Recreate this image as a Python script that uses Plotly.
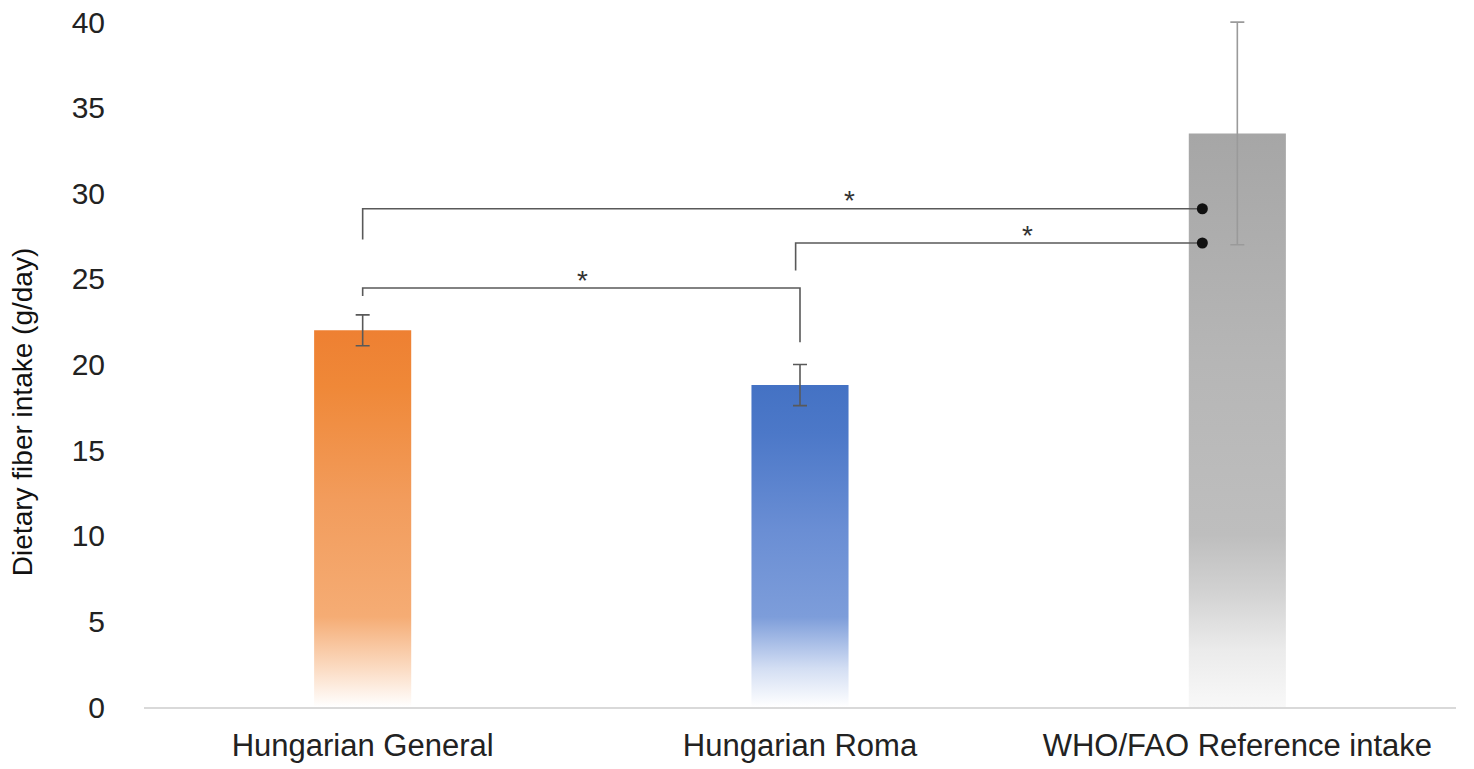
import plotly.graph_objects as go

# Dietary fiber intake by group (g/day)
groups = ["Hungarian General", "Hungarian Roma", "WHO/FAO Reference intake"]
means = [22.0, 18.8, 33.5]
errors = [0.9, 1.2, 6.5]

# Vertical gradient stops for each bar (bottom -> top)
bar_scales = [
    [[0, "#FFFFFF"], [0.1, "#FBDCC4"], [0.24, "#F5AC74"], [0.55, "#F29C5C"], [0.85, "#EF8838"], [1, "#EE8032"]],
    [[0, "#FFFFFF"], [0.12, "#D3DEF3"], [0.28, "#7D9DDA"], [0.55, "#6A8ED4"], [0.85, "#4C78C8"], [1, "#4472C4"]],
    [[0, "#F8F8F8"], [0.1, "#EBEBEB"], [0.2, "#D2D2D2"], [0.3, "#BEBEBE"], [0.6, "#B6B6B6"], [1, "#A6A6A6"]],
]
err_colors = ["#595959", "#595959", "#9A9A9A"]

# Significance brackets: (left x, left foot, right x, right foot, height, star x, dot at right end)
brackets = [
    (0.0, 27.3, 1.92, None, 29.1, 1.114, True),
    (0.99, 25.5, 1.92, None, 27.1, 1.52, True),
    (0.0, 24.0, 1.0, 21.3, 24.47, 0.503, False),
]

half_w = 0.111

fig = go.Figure()

for i, (m, e) in enumerate(zip(means, errors)):
    fig.add_trace(go.Scatter(
        x=[i - half_w, i + half_w, i + half_w, i - half_w, i - half_w],
        y=[0, 0, m, m, 0],
        mode="lines", line=dict(width=0),
        fill="toself",
        fillgradient=dict(type="vertical", colorscale=bar_scales[i], start=0, stop=m),
        hoverinfo="skip", showlegend=False,
    ))
    fig.add_trace(go.Scatter(
        x=[i], y=[m], mode="markers",
        marker=dict(size=1, color="rgba(0,0,0,0)"),
        error_y=dict(type="data", array=[e], color=err_colors[i], thickness=1.6, width=7),
        showlegend=False, hoverinfo="skip",
    ))

for lx, lf, rx, rf, h, sx, dot in brackets:
    xs = [lx, lx, rx]
    ys = [lf, h, h]
    if rf is not None:
        xs.append(rx)
        ys.append(rf)
    fig.add_trace(go.Scatter(
        x=xs, y=ys, mode="lines",
        line=dict(color="#595959", width=1.6),
        showlegend=False, hoverinfo="skip",
    ))
    if dot:
        fig.add_trace(go.Scatter(
            x=[rx], y=[h], mode="markers",
            marker=dict(size=11, color="#111111"),
            showlegend=False, hoverinfo="skip",
        ))
    fig.add_annotation(x=sx, y=h, text="*", showarrow=False,
                       yanchor="middle", yshift=8,
                       font=dict(family="Liberation Sans, Arial", size=28, color="#333333"))

# Axis title placed as a rotated annotation
fig.add_annotation(
    xref="paper", yref="paper", x=-0.093, y=0.42,
    text="Dietary fiber intake (g/day)", textangle=-90, showarrow=False,
    xanchor="center", yanchor="middle",
    font=dict(family="Liberation Sans, Arial", size=28, color="#111111"),
)

fig.update_layout(
    width=1474, height=769,
    margin=dict(l=144, r=18, t=5, b=62, autoexpand=False),
    paper_bgcolor="white", plot_bgcolor="white",
    font=dict(family="Liberation Sans, Arial", color="#222222"),
    xaxis=dict(
        range=[-0.5, 2.5], tickvals=[0, 1, 2], ticktext=groups,
        showgrid=False, zeroline=False, showline=True, linecolor="#D9D9D9", linewidth=2,
        ticks="", ticklabelstandoff=10, automargin=False,
        tickfont=dict(size=31, color="#222222"),
    ),
    yaxis=dict(
        range=[0, 41], tickvals=[0, 5, 10, 15, 20, 25, 30, 35, 40],
        showgrid=False, zeroline=False, showline=False, ticks="",
        ticklabelstandoff=38, automargin=False,
        tickfont=dict(size=30, color="#222222"),
    ),
)

fig.write_html("out.html")
